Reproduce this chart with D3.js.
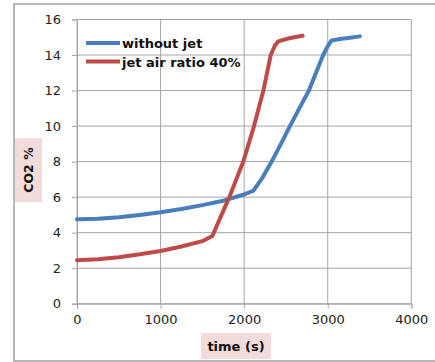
<!DOCTYPE html>
<html><head><meta charset="utf-8">
<script src="https://cdn.jsdelivr.net/npm/d3@7/dist/d3.min.js"></script>
<style>body{margin:0;background:#fff}svg{display:block}text{font-family:"DejaVu Sans",sans-serif}</style>
</head><body>
<script>
const seriesNames = ["without jet", "jet air ratio 40%"];
const seriesColors = ["#4a7ebb", "#be4b48"];
const withoutJetTime = [0, 250, 500, 750, 1000, 1250, 1500, 1750, 2000, 2110, 2220, 2329, 2440, 2548, 2660, 2775, 2860, 2946, 3000, 3046, 3150, 3265, 3385];
const withoutJetCO2  = [4.75, 4.78, 4.87, 5.0, 5.15, 5.33, 5.55, 5.8, 6.15, 6.36, 7.1, 8.0, 9.0, 10.0, 11.0, 12.0, 13.0, 14.0, 14.5, 14.82, 14.9, 14.97, 15.05];
const jetTime = [0, 250, 500, 750, 1000, 1250, 1500, 1620, 1720, 1823, 1990, 2118, 2230, 2318, 2370, 2409, 2500, 2600, 2700];
const jetCO2  = [2.45, 2.5, 2.62, 2.78, 2.97, 3.22, 3.52, 3.81, 4.9, 6.0, 8.0, 10.0, 12.0, 14.0, 14.55, 14.77, 14.9, 15.0, 15.08];
const xTicks = [0, 1000, 2000, 3000, 4000];
const yTicks = [0, 2, 4, 6, 8, 10, 12, 14, 16];
const xLabel = "time (s)";
const yLabel = "CO2 %";

const W = 435, H = 362;
const svg = d3.select("body").append("svg").attr("width", W).attr("height", H);
const x = d3.scaleLinear().domain([0, 4000]).range([77, 411.3]);
const y = d3.scaleLinear().domain([0, 16]).range([303.7, 19.5]);
const grid = "#a6a6a6";

// outer chart border
svg.append("rect").attr("x", 14).attr("y", 4).attr("width", 440).attr("height", 357)
  .attr("fill", "#fff").attr("stroke", "#a0a0a0").attr("stroke-width", 1.5);

// gridlines
svg.append("g").selectAll("line").data(yTicks).join("line")
  .attr("x1", x(0)).attr("x2", x(4000)).attr("y1", d => y(d)).attr("y2", d => y(d))
  .attr("stroke", grid).attr("stroke-width", 1);
svg.append("g").selectAll("line").data(xTicks).join("line")
  .attr("x1", d => x(d)).attr("x2", d => x(d)).attr("y1", y(0)).attr("y2", y(16))
  .attr("stroke", grid).attr("stroke-width", 1);

// axes
const xAxis = d3.axisBottom(x).tickValues(xTicks).tickSize(5).tickPadding(6).tickFormat(d3.format("d"));
const gx = svg.append("g").attr("transform", `translate(0,${y(0)})`).call(xAxis);
gx.select(".domain").attr("stroke", grid);
gx.selectAll(".tick line").attr("stroke", grid);
gx.selectAll("text").attr("font-size", 13).attr("fill", "#222").attr("font-family", "DejaVu Sans");

const yAxis = d3.axisLeft(y).tickValues(yTicks).tickSize(5).tickPadding(11);
const gy = svg.append("g").attr("transform", `translate(${x(0)},0)`).call(yAxis);
gy.select(".domain").attr("stroke", grid);
gy.selectAll(".tick line").attr("stroke", grid);
gy.selectAll("text").attr("font-size", 13).attr("fill", "#222").attr("font-family", "DejaVu Sans");

// lines
const line = d3.line().x(d => x(d[0])).y(d => y(d[1]));
const datasets = [d3.zip(withoutJetTime, withoutJetCO2), d3.zip(jetTime, jetCO2)];
datasets.forEach((ds, i) => {
  svg.append("path").datum(ds).attr("d", line).attr("fill", "none")
    .attr("stroke", seriesColors[i]).attr("stroke-width", 4).attr("stroke-linejoin", "round").attr("stroke-linecap", "round");
});

// legend
const leg = svg.append("g");
seriesNames.forEach((n, i) => {
  const ly = 43 + i * 18.5;
  leg.append("line").attr("x1", 86).attr("x2", 120).attr("y1", ly).attr("y2", ly)
    .attr("stroke", seriesColors[i]).attr("stroke-width", 4);
  leg.append("text").attr("x", 122).attr("y", ly + 5).attr("font-size", 13).attr("font-weight", "bold")
    .attr("fill", "#111").text(n);
});

// axis titles
svg.append("rect").attr("x", 201).attr("y", 333).attr("width", 70).attr("height", 26).attr("fill", "#f2dcdb");
svg.append("text").attr("x", 236).attr("y", 351).attr("text-anchor", "middle").attr("font-size", 13)
  .attr("font-weight", "bold").attr("fill", "#111").text(xLabel);
svg.append("rect").attr("x", 15).attr("y", 138).attr("width", 27).attr("height", 64).attr("fill", "#f2dcdb");
svg.append("text").attr("transform", "translate(33,170) rotate(-90)").attr("text-anchor", "middle")
  .attr("font-size", 12.5).attr("font-weight", "bold").attr("fill", "#111").text(yLabel);
</script>
</body></html>
